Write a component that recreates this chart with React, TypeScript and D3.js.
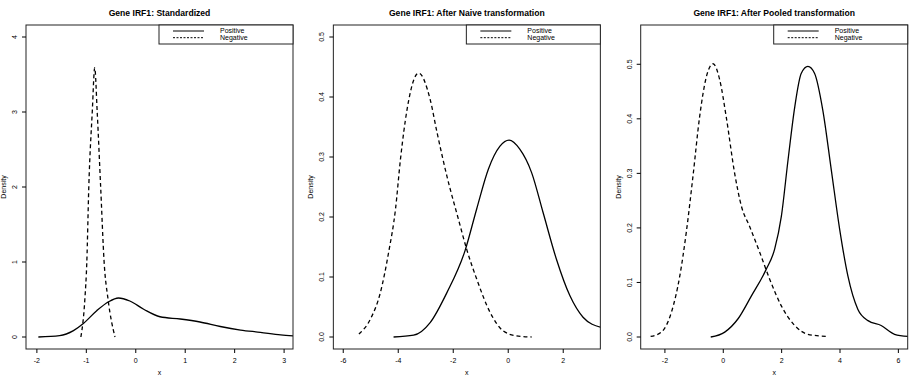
import React from "react";
import * as d3 from "d3";

// titles and tick labels
const titles = [
  "Gene IRF1: Standardized",
  "Gene IRF1: After Naive transformation",
  "Gene IRF1: After Pooled transformation",
];
const xTicks = [[-2, -1, 0, 1, 2, 3], [-6, -4, -2, 0, 2], [-2, 0, 2, 4, 6]];
const yTicks = [[0, 1, 2, 3, 4], [0, 0.1, 0.2, 0.3, 0.4, 0.5], [0, 0.1, 0.2, 0.3, 0.4, 0.5]];
const yTickLabels = [
  ["0", "1", "2", "3", "4"],
  ["0.0", "0.1", "0.2", "0.3", "0.4", "0.5"],
  ["0.0", "0.1", "0.2", "0.3", "0.4", "0.5"],
];
const xDomains = [[-2.22, 3.18], [-6.36, 3.35], [-2.83, 6.32]];
const yDomains = [[-0.16, 4.16], [-0.02, 0.52], [-0.022, 0.572]];

// density estimates
// panel 1 - standardized
const stdPosX = [-1.97, -1.54, -1.26, -1.06, -0.79, -0.55, -0.35, -0.12, 0.16, 0.49, 0.9, 1.3, 1.71, 2.12, 2.52, 2.93, 3.23];
const stdPosY = [0, 0.018, 0.085, 0.18, 0.35, 0.47, 0.52, 0.48, 0.37, 0.27, 0.24, 0.2, 0.14, 0.093, 0.062, 0.027, 0.013];
const stdNegX = [-1.11, -1.03, -0.99, -0.95, -0.88, -0.83, -0.78, -0.71, -0.64, -0.56, -0.42];
const stdNegY = [0, 0.5, 1.0, 2.0, 3.0, 3.59, 3.0, 2.0, 1.0, 0.5, 0];

// panel 2 - naive
const naivePosX = [-4.17, -3.44, -2.84, -2.23, -1.57, -1.15, -0.72, -0.3, 0.03, 0.42, 0.85, 1.27, 1.75, 2.24, 2.72, 3.38];
const naivePosY = [0, 0.003, 0.024, 0.074, 0.144, 0.213, 0.28, 0.318, 0.328, 0.313, 0.274, 0.207, 0.13, 0.069, 0.033, 0.016];
const naiveNegX = [-5.43, -5.01, -4.65, -4.35, -4.1, -3.92, -3.68, -3.26, -2.84, -2.59, -2.23, -1.81, -1.51, -1.15, -0.66, -0.18, 0.3, 0.85];
const naiveNegY = [0.005, 0.03, 0.074, 0.141, 0.213, 0.296, 0.379, 0.44, 0.396, 0.341, 0.268, 0.196, 0.146, 0.097, 0.041, 0.01, 0.002, 0];

// panel 3 - pooled
const pooledPosX = [-0.43, 0.05, 0.5, 0.96, 1.47, 1.76, 1.99, 2.22, 2.45, 2.67, 2.9, 3.13, 3.41, 3.7, 3.99, 4.27, 4.61, 4.96, 5.41, 5.87, 6.35];
const pooledPosY = [0, 0.009, 0.033, 0.075, 0.124, 0.161, 0.221, 0.325, 0.422, 0.483, 0.496, 0.483, 0.416, 0.307, 0.197, 0.112, 0.051, 0.03, 0.021, 0.005, 0.001];
const pooledNegX = [-2.49, -2.12, -1.78, -1.49, -1.27, -1.04, -0.81, -0.58, -0.35, -0.12, 0.1, 0.39, 0.62, 0.9, 1.25, 1.59, 1.99, 2.45, 2.9, 3.56];
const pooledNegY = [0.001, 0.009, 0.045, 0.112, 0.191, 0.294, 0.404, 0.477, 0.501, 0.471, 0.404, 0.3, 0.24, 0.203, 0.155, 0.106, 0.057, 0.021, 0.005, 0.001];

const positives = [[stdPosX, stdPosY], [naivePosX, naivePosY], [pooledPosX, pooledPosY]];
const negatives = [[stdNegX, stdNegY], [naiveNegX, naiveNegY], [pooledNegX, pooledNegY]];

const W = 922;
const H = 382;
const FONT = "'Liberation Sans', Arial, Helvetica, sans-serif";

function Panel({ i }: { i: number }) {
  const left = 26 + i * 307.35;
  const width = 267;
  const top = 25;
  const bottom = 349;
  const x = d3.scaleLinear().domain(xDomains[i]).range([left, left + width]);
  const y = d3.scaleLinear().domain(yDomains[i]).range([bottom, top]);
  const line = d3
    .line<[number, number]>()
    .x((d) => x(d[0]))
    .y((d) => y(d[1]))
    .curve(d3.curveMonotoneX);
  const toPts = (s: number[][]) => s[0].map((v, k) => [v, s[1][k]] as [number, number]);
  const clipId = `clip${i}`;
  const cx = left + width / 2;
  const lgLeft = left + width - 134;

  return (
    <g fontFamily={FONT}>
      <defs>
        <clipPath id={clipId}>
          <rect x={left} y={top} width={width} height={bottom - top} />
        </clipPath>
      </defs>
      <text x={cx} y={16} textAnchor="middle" fontSize={8.6} fontWeight="bold">
        {titles[i]}
      </text>
      <g clipPath={`url(#${clipId})`}>
        <path d={line(toPts(negatives[i])) || ""} fill="none" stroke="#000" strokeWidth={1.3} strokeDasharray="4,3" />
        <path d={line(toPts(positives[i])) || ""} fill="none" stroke="#000" strokeWidth={1.3} />
      </g>
      <rect x={left} y={top} width={width} height={bottom - top} fill="none" stroke="#222" strokeWidth={1} />
      {xTicks[i].map((t) => (
        <g key={"x" + t}>
          <line x1={x(t)} x2={x(t)} y1={bottom} y2={bottom + 4} stroke="#000" />
          <text x={x(t)} y={362.5} textAnchor="middle" fontSize={7}>
            {t}
          </text>
        </g>
      ))}
      {yTicks[i].map((t, k) => (
        <g key={"y" + t}>
          <line x1={left - 4} x2={left} y1={y(t)} y2={y(t)} stroke="#000" />
          <text
            transform={`translate(${left - 9},${y(t)}) rotate(-90)`}
            textAnchor="middle"
            fontSize={7}
          >
            {yTickLabels[i][k]}
          </text>
        </g>
      ))}
      <text x={cx} y={374.5} textAnchor="middle" fontSize={7}>
        x
      </text>
      <text transform={`translate(${left - 20},187) rotate(-90)`} textAnchor="middle" fontSize={7}>
        Density
      </text>
      <rect x={lgLeft} y={top} width={134} height={19} fill="#fff" stroke="#222" strokeWidth={1} />
      <line x1={lgLeft + 14} x2={lgLeft + 45} y1={31} y2={31} stroke="#000" strokeWidth={1} />
      <line x1={lgLeft + 14} x2={lgLeft + 45} y1={37.7} y2={37.7} stroke="#000" strokeWidth={1} strokeDasharray="2,1.5" />
      <text x={lgLeft + 61} y={33.3} fontSize={7}>
        Positive
      </text>
      <text x={lgLeft + 61} y={40} fontSize={7}>
        Negative
      </text>
    </g>
  );
}

export default function App() {
  return (
    <svg width={W} height={H} style={{ display: "block", position: "absolute", left: 0, top: 0, background: "#fff" }}>
      {[0, 1, 2].map((i) => (
        <Panel key={i} i={i} />
      ))}
    </svg>
  );
}
